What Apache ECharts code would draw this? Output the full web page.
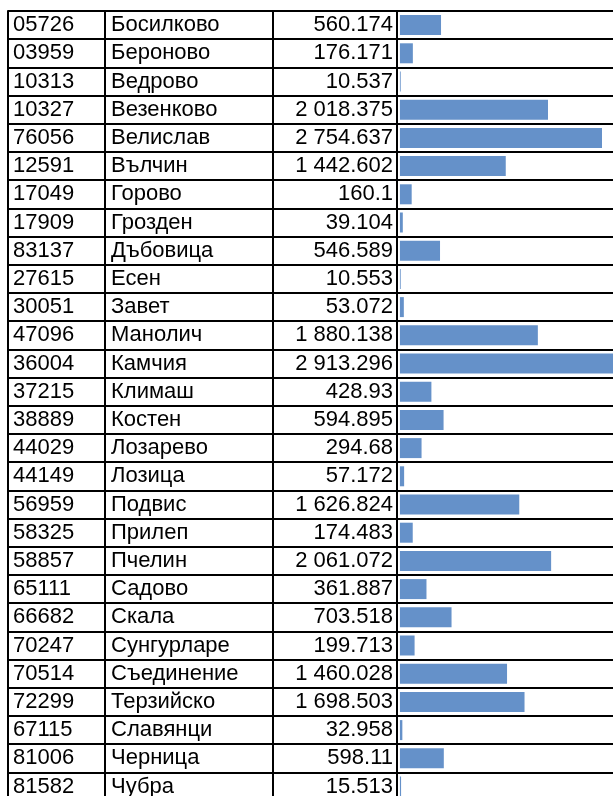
<!DOCTYPE html>
<html>
<head>
<meta charset="utf-8">
<script src="https://cdn.jsdelivr.net/npm/echarts@6/dist/echarts.min.js"></script>
<style>
  html, body { margin: 0; padding: 0; background: #fff; }
  #main { width: 613px; height: 796px; }
</style>
</head>
<body>
<div id="main"></div>
<script>
// данни
var codes = ['05726','03959','10313','10327','76056','12591','17049','17909','83137','27615',
  '30051','47096','36004','37215','38889','44029','44149','56959','58325','58857',
  '65111','66682','70247','70514','72299','67115','81006','81582'];
var names = ['Босилково','Бероново','Ведрово','Везенково','Велислав','Вълчин','Горово','Грозден','Дъбовица','Есен',
  'Завет','Манолич','Камчия','Климаш','Костен','Лозарево','Лозица','Подвис','Прилеп','Пчелин',
  'Садово','Скала','Сунгурларе','Съединение','Терзийско','Славянци','Черница','Чубра'];
var values = [560.174,176.171,10.537,2018.375,2754.637,1442.602,160.1,39.104,546.589,10.553,
  53.072,1880.138,2913.296,428.93,594.895,294.68,57.172,1626.824,174.483,2061.072,
  361.887,703.518,199.713,1460.028,1698.503,32.958,598.11,15.513];

// 2018.375 -> "2 018.375"
function fmt(v) {
  var p = String(v).split('.');
  p[0] = p[0].replace(/\B(?=(\d{3})+(?!\d))/g, ' ');
  return p.join('.');
}
var valueLabels = values.map(fmt);

var font = { color: '#000', fontSize: 22, fontFamily: 'Liberation Sans, Arial, sans-serif' };
var line = { show: true, onZero: false, lineStyle: { color: '#000', width: 2 } };

function colAxis(data, offset, label) {
  return {
    type: 'category',
    position: 'left',
    inverse: true,
    offset: offset,
    data: data,
    axisLine: line,
    axisTick: { show: false },
    axisLabel: label ? Object.assign({ interval: 0 }, font, label) : { show: false },
    splitLine: { show: false }
  };
}

var chart = echarts.init(document.getElementById('main'));
var yCodes = colAxis(codes, 0, { align: 'left', margin: -5 });
yCodes.splitLine = { show: true, interval: 0, lineStyle: { color: '#000', width: 2 } };

chart.setOption({
  animation: false,
  grid: { left: 8, top: 11, width: 612, height: 789.6, containLabel: false, outerBoundsMode: 'none' },
  xAxis: { type: 'value', min: -5343, max: 3000, show: false, splitLine: { show: false } },
  yAxis: [
    yCodes,
    colAxis(names, -97, { align: 'left', margin: -6 }),
    colAxis(valueLabels, -264.5, { align: 'right', margin: -120.5 }),
    colAxis(codes, -388.5, null)
  ],
  series: [{
    type: 'bar',
    yAxisIndex: 0,
    data: values,
    barWidth: 20,
    itemStyle: { color: '#6591c9' }
  }]
});
</script>
</body>
</html>
